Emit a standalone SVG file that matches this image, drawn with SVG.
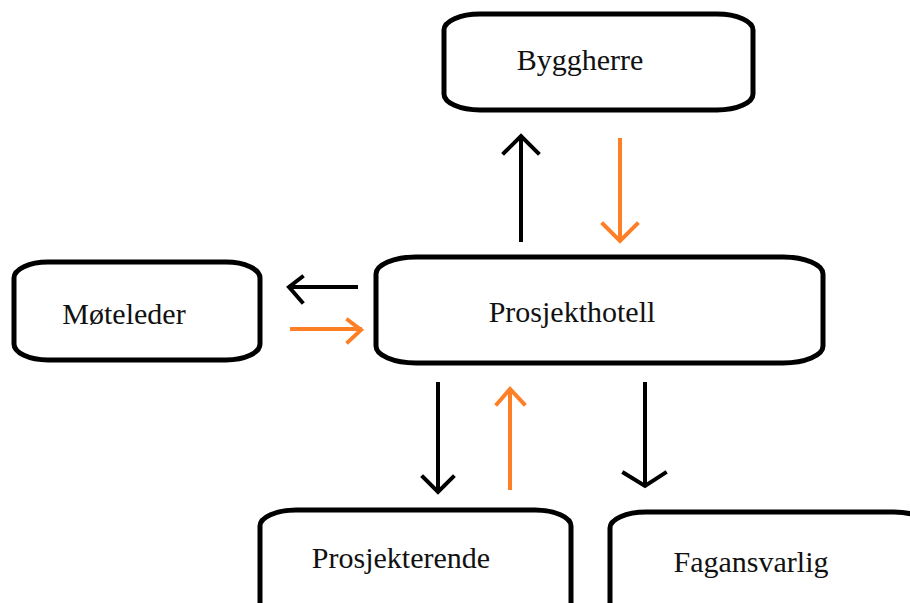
<svg xmlns="http://www.w3.org/2000/svg" width="910" height="603" viewBox="0 0 910 603">
  <style>
    .box { fill: #ffffff; stroke: #000000; stroke-width: 5; }
    .label { font-family: "Liberation Serif", "Times New Roman", serif; font-size: 30px; fill: #111111; text-anchor: middle; }
    .a-black { stroke: #000000; stroke-width: 4; fill: none; stroke-linecap: square; stroke-linejoin: miter; }
    .a-orange { stroke: #FF7F27; stroke-width: 4; fill: none; stroke-linecap: square; stroke-linejoin: miter; }
  </style>
  <rect width="910" height="603" fill="#ffffff"/>

  <g id="byggherre">
    <rect class="box" x="444" y="14" width="309" height="96" rx="36" ry="16"/>
    <text class="label" x="580" y="70">Byggherre</text>
  </g>

  <g id="moteleder">
    <rect class="box" x="14" y="262" width="246" height="98" rx="34" ry="16"/>
    <text class="label" x="124" y="324">Møteleder</text>
  </g>

  <g id="prosjekthotell">
    <rect class="box" x="376" y="257" width="447" height="106" rx="40" ry="17"/>
    <text class="label" x="572" y="322">Prosjekthotell</text>
  </g>

  <g id="prosjekterende">
    <rect class="box" x="260" y="510" width="311" height="110" rx="36" ry="16"/>
    <text class="label" x="401" y="568">Prosjekterende</text>
  </g>

  <g id="fagansvarlig">
    <rect class="box" x="610" y="512" width="320" height="110" rx="36" ry="16"/>
    <text class="label" x="751" y="572">Fagansvarlig</text>
  </g>

  <g id="connectors">
    <!-- Prosjekthotell -> Byggherre -->
    <path class="a-black" d="M521 240 V137 M504 153 L521 136 L538 153"/>
    <!-- Byggherre -> Prosjekthotell -->
    <path class="a-orange" d="M620 140 V240 M603 224 L620 241 L637 224"/>
    <!-- Prosjekthotell -> Møteleder -->
    <path class="a-black" d="M356 287 H290 M302 277 L289 287 L302 302"/>
    <!-- Møteleder -> Prosjekthotell -->
    <path class="a-orange" d="M292 329 H360 M348 320 L361 330 L348 342"/>
    <!-- Prosjekthotell -> Prosjekterende -->
    <path class="a-black" d="M438 384 V491 M423 477 L438 492 L453 477"/>
    <!-- Prosjekterende -> Prosjekthotell -->
    <path class="a-orange" d="M510 488 V390 M497 404 L510 389 L524 404"/>
    <!-- Prosjekthotell -> Fagansvarlig -->
    <path class="a-black" d="M645 384 V485 M624 473 L645 486 L665 473"/>
  </g>
</svg>
